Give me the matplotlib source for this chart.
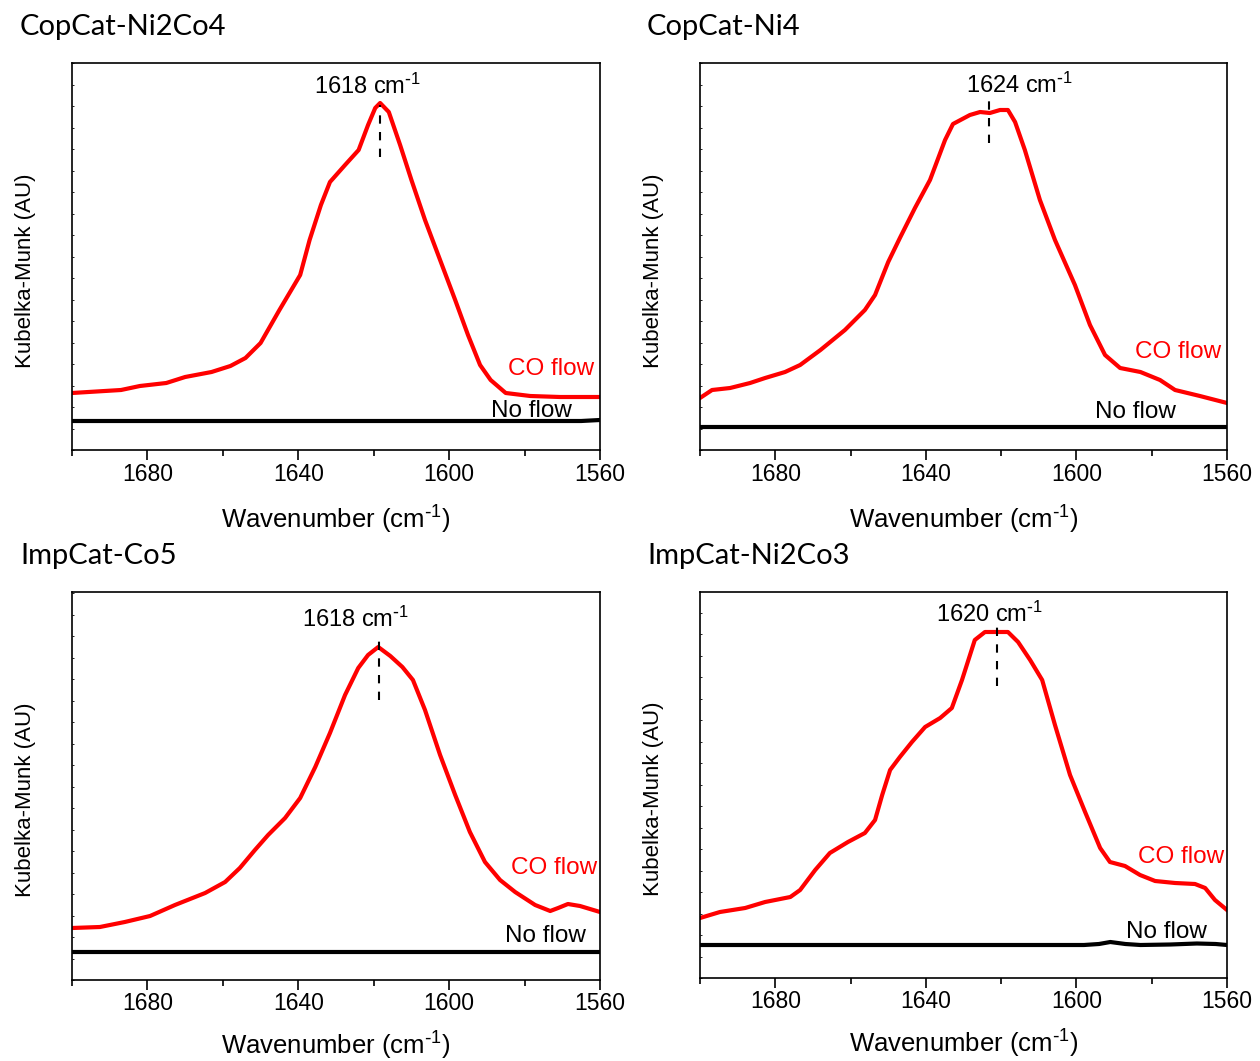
"""Four-panel DRIFTS plot: CO flow vs no flow, Kubelka-Munk around 1620 cm-1."""

import matplotlib
matplotlib.use("Agg")
import matplotlib.pyplot as plt
from matplotlib.ticker import MultipleLocator

plt.rcParams['font.family'] = ['Liberation Sans', 'DejaVu Sans']
plt.rcParams['mathtext.default'] = 'regular'

# ---- data (arbitrary units) ----
titles = ["CopCat-Ni2Co4", "CopCat-Ni4", "ImpCat-Co5", "ImpCat-Ni2Co3"]
peak_labels = [1618, 1624, 1618, 1620]

# CopCat-Ni2Co4
wn_a = [1700, 1687, 1682, 1675, 1670, 1663, 1658, 1654, 1650, 1645, 1639.5, 1637,
        1634, 1631.6, 1627.6, 1624, 1621.5, 1619.6, 1618.3, 1616, 1613, 1610,
        1606.4, 1602.4, 1598.4, 1595, 1591.8, 1589, 1585, 1578.5, 1570.6, 1560]
co_a = [0.57, 0.60, 0.64, 0.67, 0.73, 0.78, 0.84, 0.92, 1.07, 1.40, 1.75, 2.10,
        2.45, 2.68, 2.85, 3.00, 3.25, 3.42, 3.47, 3.38, 3.05, 2.70,
        2.30, 1.90, 1.50, 1.15, 0.85, 0.70, 0.57, 0.54, 0.53, 0.53]
nf_wn_a = [1700, 1650, 1600, 1565, 1560]
nf_a = [0.29, 0.29, 0.29, 0.29, 0.30]

# CopCat-Ni4
wn_b = [1700, 1696.8, 1692, 1686.7, 1682.7, 1677.4, 1673.4, 1668, 1661.5, 1656.2,
        1653.5, 1650, 1646.9, 1642.9, 1638.9, 1634.9, 1632.8, 1628.3, 1625.6, 1623,
        1620.3, 1618.2, 1616.3, 1613.7, 1609.7, 1605.7, 1600.4, 1596.4, 1592.4,
        1588.4, 1583, 1577.8, 1573.8, 1567.2, 1560]
co_b = [0.52, 0.60, 0.62, 0.67, 0.72, 0.78, 0.85, 1.00, 1.20, 1.40,
        1.55, 1.88, 2.12, 2.42, 2.70, 3.10, 3.26, 3.35, 3.38, 3.37,
        3.40, 3.40, 3.28, 3.00, 2.50, 2.10, 1.65, 1.25, 0.95,
        0.82, 0.78, 0.70, 0.60, 0.54, 0.47]
nf_wn_b = [1700, 1650, 1600, 1560]
nf_b = [0.23, 0.23, 0.23, 0.23]

# ImpCat-Co5
wn_c = [1700, 1692.6, 1686, 1679.3, 1672.7, 1664.7, 1659.4, 1655.5, 1651.5, 1648,
        1643.5, 1639.5, 1635.5, 1631.6, 1627.6, 1624.1, 1621.5, 1618.8, 1615.6,
        1612.4, 1609.6, 1606.4, 1602.4, 1598.4, 1594.5, 1590.5, 1586.5, 1582.5,
        1577.2, 1573.2, 1571.1, 1568.5, 1565.3, 1560]
co_c = [0.52, 0.53, 0.58, 0.64, 0.75, 0.87, 0.98, 1.12, 1.30, 1.45,
        1.62, 1.82, 2.13, 2.47, 2.85, 3.12, 3.25, 3.33, 3.24,
        3.13, 3.00, 2.70, 2.25, 1.85, 1.48, 1.18, 1.00, 0.88,
        0.75, 0.69, 0.72, 0.76, 0.74, 0.68]
nf_wn_c = [1700, 1650, 1600, 1560]
nf_c = [0.28, 0.28, 0.28, 0.28]

# ImpCat-Ni2Co3
wn_d = [1700, 1694.7, 1688, 1682.7, 1676, 1673.4, 1669.4, 1665.5, 1660.7, 1656.2,
        1653.5, 1651.6, 1649.5, 1646.9, 1643.7, 1640.2, 1636.2, 1633.1, 1630.4,
        1627, 1624.3, 1620.8, 1618.2, 1615.5, 1612.3, 1609.1, 1605.7, 1601.7,
        1597.7, 1593.7, 1591.1, 1587.1, 1583.1, 1579.1, 1573.8, 1568.5, 1565.8,
        1563.2, 1560]
co_d = [0.60, 0.66, 0.70, 0.76, 0.81, 0.88, 1.08, 1.25, 1.36, 1.45,
        1.58, 1.83, 2.08, 2.21, 2.36, 2.51, 2.60, 2.70, 2.98,
        3.38, 3.46, 3.46, 3.46, 3.36, 3.18, 2.98, 2.53, 2.03,
        1.66, 1.30, 1.16, 1.12, 1.03, 0.97, 0.95, 0.94, 0.90,
        0.78, 0.68]
nf_wn_d = [1700, 1640, 1598, 1594, 1591, 1587, 1583, 1575, 1568, 1563, 1560]
nf_d = [0.33, 0.33, 0.33, 0.34, 0.36, 0.34, 0.33, 0.335, 0.345, 0.34, 0.33]

co_x = [wn_a, wn_b, wn_c, wn_d]
co_y = [co_a, co_b, co_c, co_d]
nf_x = [nf_wn_a, nf_wn_b, nf_wn_c, nf_wn_d]
nf_y = [nf_a, nf_b, nf_c, nf_d]

# annotation placement per panel (data coords)
dash_x = [1618.3, 1623.2, 1618.6, 1621]
dash_y = [(2.93, 3.45), (3.07, 3.52), (2.80, 3.40), (2.92, 3.53)]
peak_txt = [(1621.6, 3.64), (1615.2, 3.65), (1624.7, 3.61), (1623.0, 3.64)]
co_txt = [(1561.6, 0.81), (1561.6, 0.98), (1560.8, 1.12), (1560.8, 1.21)]
nf_txt = [(1567.4, 0.39), (1573.5, 0.38), (1563.7, 0.44), (1565.3, 0.46)]
ylims = [(0, 3.87), (0, 3.87), (0, 3.88), (0, 3.86)]

fig = plt.figure(figsize=(12.6, 10.61), dpi=100)
W, H = 1260, 1061
boxes = [(72, 63, 528, 387), (700, 63, 527, 387),
         (72, 592, 528, 388), (700, 592, 527, 386)]
title_pos = [(20, 27), (647, 27), (20, 556), (647, 556)]
ylab_right = [36, 664, 36, 664]
xlab_gap = [54, 54, 50, 50]

for i in range(4):
    x0, y0, w, h = boxes[i]
    ax = fig.add_axes([x0 / W, 1 - (y0 + h) / H, w / W, h / H])
    ax.plot(co_x[i], co_y[i], color='#ff0000', lw=3.0, solid_joinstyle='round')
    ax.plot(nf_x[i], nf_y[i], color='black', lw=3.0)
    ax.set_xlim(1700, 1560)
    ax.set_ylim(*ylims[i])
    ax.xaxis.set_minor_locator(MultipleLocator(20))
    ax.set_xticks([1680, 1640, 1600, 1560])
    ax.yaxis.set_major_locator(MultipleLocator(0.215))
    ax.tick_params(axis='x', which='major', direction='out', length=7, width=1.2,
                   labelsize=16.5, pad=2)
    ax.tick_params(axis='x', which='minor', direction='out', length=4, width=1.2)
    ax.tick_params(axis='y', which='major', direction='in', length=1.5, width=0.6,
                   labelleft=False)
    for sp in ax.spines.values():
        sp.set_linewidth(1.2)
    ax.set_xlabel('Wavenumber (cm$^{\\text{-}1}$)', fontsize=18.5)
    ax.set_ylabel('Kubelka-Munk (AU)', fontsize=16)
    ax.xaxis.set_label_coords(0.5, -xlab_gap[i] / h)
    ax.yaxis.set_label_coords(-(x0 - ylab_right[i]) / w, 0.5 - 14 / h)

    ax.plot([dash_x[i], dash_x[i]], dash_y[i], color='black', lw=1.5,
            linestyle=(0, (4, 4)))
    ax.text(peak_txt[i][0], peak_txt[i][1], f'{peak_labels[i]} cm$^{{\\text{{-}}1}}$',
            ha='center', va='center', fontsize=17)
    ax.text(co_txt[i][0], co_txt[i][1], 'CO flow', color='#ff0000',
            ha='right', va='center', fontsize=17.5)
    ax.text(nf_txt[i][0], nf_txt[i][1], 'No flow', color='black',
            ha='right', va='center', fontsize=17.5)

    fig.text(title_pos[i][0] / W, 1 - title_pos[i][1] / H, titles[i],
             ha='left', va='center', fontsize=21, family=['Lato', 'DejaVu Sans'])

fig.savefig('out.png', dpi=100)
